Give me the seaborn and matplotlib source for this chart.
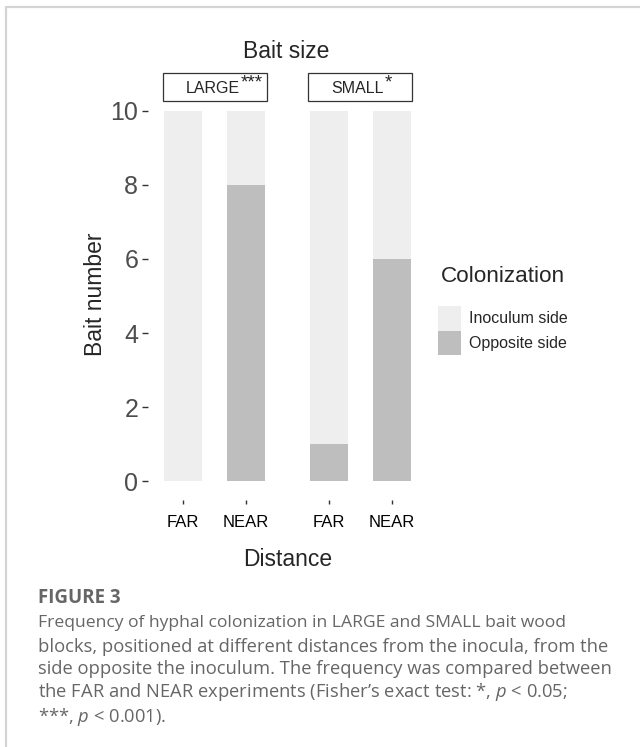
import numpy as np
import pandas as pd
import matplotlib.pyplot as plt
import seaborn as sns
from matplotlib.patches import Rectangle, Patch
from matplotlib.lines import Line2D

# data
bait_sizes = ["LARGE", "SMALL"]
size_stars = ["***", "*"]
distances = ["FAR", "NEAR"]
opposite_side = [0, 8, 1, 6]     # LARGE FAR, LARGE NEAR, SMALL FAR, SMALL NEAR
inoculum_side = [10, 2, 9, 4]
y_ticks = [0, 2, 4, 6, 8, 10]

LIGHT = "#eeeeee"
DARK = "#bebebe"
W, H = 640, 747

caption_lines = [
    "Frequency of hyphal colonization in LARGE and SMALL bait wood",
    "blocks, positioned at different distances from the inocula, from the",
    "side opposite the inoculum. The frequency was compared between",
    "the FAR and NEAR experiments (Fisher\u2019s exact test: *, $p$ < 0.05;",
    "***, $p$ < 0.001).",
]


def fx(px):
    return px / W


def fy(py):
    return 1 - py / H


def main():
    sns.set_style("white")
    plt.rcParams["font.family"] = ["Liberation Sans", "DejaVu Sans"]
    plt.rcParams["mathtext.fontset"] = "custom"
    plt.rcParams["mathtext.rm"] = "Open Sans"
    plt.rcParams["mathtext.it"] = "Open Sans:italic"

    df = pd.DataFrame({
        "size": np.repeat(bait_sizes, len(distances)),
        "distance": distances * len(bait_sizes),
        "opposite": opposite_side,
        "inoculum": inoculum_side,
    })
    df["total"] = df["opposite"] + df["inoculum"]

    fig = plt.figure(figsize=(W / 100, H / 100), dpi=100)

    # panels in px: axes left, axes right, strip left, first bar centre
    panels = [(148, 266, 163, 183), (308, 412, 308, 329)]
    for i, size in enumerate(bait_sizes):
        left, right, strip_left, c0 = panels[i]
        ax = fig.add_axes([fx(left), fy(500), fx(right - left), (500 - 101) / H])
        sub = df[df["size"] == size]
        sns.barplot(data=sub, x="distance", y="total", order=distances,
                    color=LIGHT, width=0.6, saturation=1, linewidth=0,
                    edgecolor="none", ax=ax)
        sns.barplot(data=sub, x="distance", y="opposite", order=distances,
                    color=DARK, width=0.6, saturation=1, linewidth=0,
                    edgecolor="none", ax=ax)
        # one x unit is 63 px
        ax.set_xlim(-(c0 - left) / 63, (right - c0) / 63)
        ax.set_ylim(-0.5, 10.26)
        for s in ax.spines.values():
            s.set_visible(False)
        ax.set_xlabel("")
        ax.set_ylabel("")
        ax.tick_params(axis="x", length=3, width=1, color="#333333", pad=8,
                       labelsize=12, labelcolor="black", bottom=True)
        if i == 0:
            ax.set_yticks(y_ticks)
            ax.tick_params(axis="y", length=4, width=1, color="#333333", pad=3,
                           labelsize=18, labelcolor="#4d4d4d", left=True)
        else:
            ax.set_yticks([])

        # strip box above each panel
        fig.add_artist(Rectangle((fx(strip_left), fy(101)), fx(104), 28 / H,
                                 transform=fig.transFigure, fill=False,
                                 ec="#333333", lw=0.9))
        lbl_x = 213 if i == 0 else 358
        t = fig.text(fx(lbl_x), fy(93), size, fontsize=11.5, ha="center",
                     va="baseline")
        ax.annotate(size_stars[i], xy=(1.0, 1.0), xycoords=t, fontsize=13.5,
                    ha="left", va="top", xytext=(0.3, 4.5),
                    textcoords="offset points", annotation_clip=False)

    fig.text(fx(286), fy(51), "Bait size", fontsize=16.5, ha="center", va="center")
    fig.text(fx(288), fy(559), "Distance", fontsize=16.5, ha="center", va="center")
    fig.text(fx(96), fy(294), "Bait number", fontsize=16.5, rotation=90,
             ha="center", va="center")

    fig.text(fx(441), fy(277), "Colonization", fontsize=16.2, ha="left",
             va="center")
    handles = [Patch(facecolor=LIGHT, edgecolor="none", label="Inoculum side"),
               Patch(facecolor=DARK, edgecolor="none", label="Opposite side")]
    fig.legend(handles=handles, loc="upper left",
               bbox_to_anchor=(fx(438), fy(306)), frameon=False,
               fontsize=11.5, handlelength=1.45, handleheight=2.0,
               labelspacing=0, handletextpad=0.5, borderpad=0,
               borderaxespad=0)

    # caption
    fig.text(fx(38), fy(603), "FIGURE 3", fontsize=13.5, fontweight="bold",
             family="Open Sans", color="#666666", va="baseline")
    baselines = [627, 652, 674, 697, 722]
    sizes = [12.6, 13.2, 13.2, 13.2, 13.2]
    for line, b, fs in zip(caption_lines, baselines, sizes):
        fig.text(fx(38), fy(b), line, fontsize=fs, family="Open Sans",
                 color="#666666", va="baseline")

    # page border (top and left)
    fig.add_artist(Line2D([fx(6), 1], [fy(7), fy(7)], color="#d4d4d4", lw=1.6,
                          transform=fig.transFigure))
    fig.add_artist(Line2D([fx(6), fx(6)], [fy(7), 0], color="#d4d4d4", lw=1.6,
                          transform=fig.transFigure))

    fig.savefig("out.png", dpi=100)


if __name__ == "__main__":
    main()
